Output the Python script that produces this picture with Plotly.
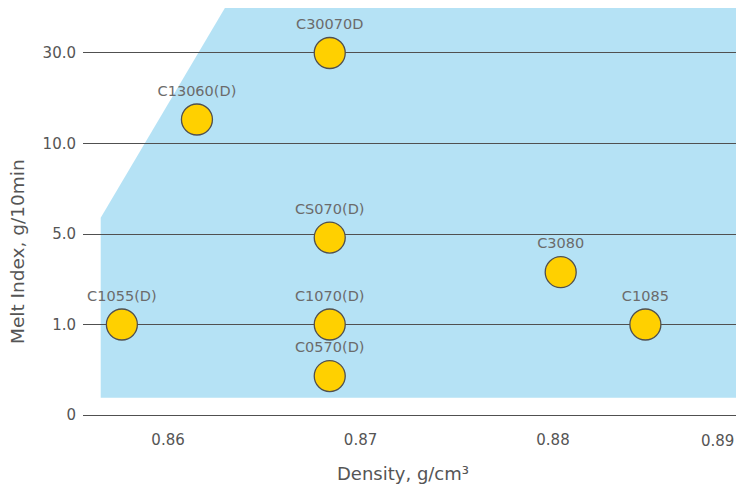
import plotly.graph_objects as go

# Grades: density (g/cm3) and position on the ordinal melt-index axis
grades = ["C1055(D)", "C13060(D)", "C30070D", "CS070(D)", "C1070(D)", "C0570(D)", "C3080", "C1085"]
density = [0.8576, 0.8615, 0.8684, 0.8684, 0.8684, 0.8684, 0.8804, 0.8848]
mi_pos = [1.0, 3.265, 4.0, 1.96, 1.0, 0.43, 1.578, 1.0]

# Ordinal melt index axis
mi_tickpos = [0, 1, 2, 3, 4]
mi_ticktext = ["0", "1.0", "5.0", "10.0", "30.0"]

# Density ticks
dens_ticks = [0.86, 0.87, 0.88]
dens_last_tick = "0.89"

# Shaded product-range region (density, ordinal MI)
region_x = [0.8565, 0.8565, 0.8631, 0.8898, 0.8898]
region_y = [0.19, 2.18, 4.55, 4.55, 0.19]

x_range = [0.85558, 0.88956]
y_range = [-0.022, 4.497]

FONT = "DejaVu Sans"
GRAY = "#555555"

path = "M " + " L ".join(f"{x},{y}" for x, y in zip(region_x, region_y)) + " Z"

fig = go.Figure()
fig.add_trace(go.Scatter(
    x=density, y=mi_pos, mode="markers+text", text=grades,
    textposition="top center",
    textfont=dict(family=FONT, size=14.5, color="#6b6b6b"),
    marker=dict(size=31, color="#FFD000", line=dict(color="#505050", width=1.3)),
    hoverinfo="skip", showlegend=False, cliponaxis=False,
))

fig.add_shape(type="path", path=path, xref="x", yref="y",
              fillcolor="#B5E2F5", line=dict(width=0), layer="below")

fig.update_layout(
    width=736, height=476,
    margin=dict(l=75, r=7, t=0, b=67),
    plot_bgcolor="white", paper_bgcolor="white",
    font=dict(family=FONT, color=GRAY),
    xaxis=dict(range=x_range, tickvals=dens_ticks, ticktext=[f"{v:.2f}" for v in dens_ticks],
               showgrid=False, zeroline=False, showline=False, ticks="",
               tickfont=dict(family=FONT, size=15, color=GRAY), ticklabelstandoff=12),
    yaxis=dict(range=y_range, tickvals=mi_tickpos, ticktext=mi_ticktext,
               showgrid=True, gridcolor="#505050", gridwidth=1.3,
               zeroline=False, showline=False, ticks="",
               tickfont=dict(family=FONT, size=15, color=GRAY), ticklabelstandoff=6),
    annotations=[
        dict(text=dens_last_tick, xref="paper", yref="paper", x=1.0, y=0, xanchor="right",
             yanchor="top", xshift=-1, yshift=-13, showarrow=False,
             font=dict(family=FONT, size=15, color=GRAY)),
        dict(text="Density, g/cm³", xref="paper", yref="paper", x=(395 - 75) / 654, y=0,
             yanchor="middle", yshift=-(473 - 417), showarrow=False,
             font=dict(family=FONT, size=18, color=GRAY)),
        dict(text="Melt Index, g/10min", xref="paper", yref="paper", x=(9 - 75) / 654,
             y=(417 - 252) / 409, textangle=-90, xanchor="center", yanchor="middle",
             showarrow=False, font=dict(family=FONT, size=18.5, color=GRAY)),
    ],
)

fig.write_html("out.html")
